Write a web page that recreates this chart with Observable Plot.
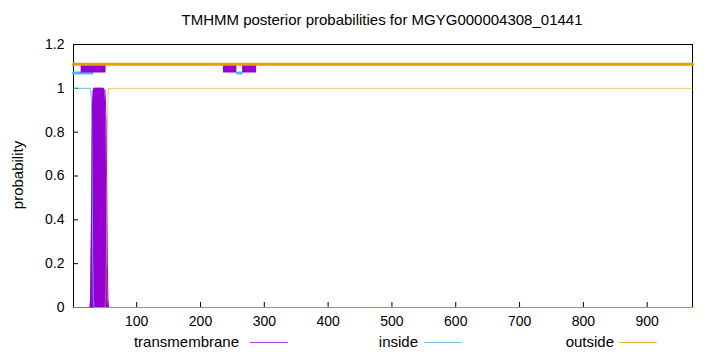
<!DOCTYPE html>
<html>
<head>
<meta charset="utf-8">
<script src="https://cdn.jsdelivr.net/npm/d3@7"></script>
<script src="https://cdn.jsdelivr.net/npm/@observablehq/plot@0.6"></script>
<style>
  html, body { margin: 0; padding: 0; background: #fff; }
  #wrap { position: relative; width: 720px; height: 352px; font-family: "Liberation Sans", Arial, sans-serif; }
  .t { position: absolute; font-size: 15px; line-height: 17px; color: #000; white-space: nowrap; }
</style>
</head>
<body>
<div id="wrap"></div>
<script>
// ---- data ----
const title = "TMHMM posterior probabilities for MGYG000004308_01441";
const seqLength = 971;
const xTicks = [100, 200, 300, 400, 500, 600, 700, 800, 900];
const yTicks = [0, 0.2, 0.4, 0.6, 0.8, 1, 1.2];

// posterior probabilities (position, value)
const tmPos =  [1, 27, 28, 29, 30, 31, 32, 33, 40, 48, 50, 51, 52, 53, 54, 55, 56, 971];
const tmVal =  [0, 0, 0.05, 0.35, 0.75, 0.93, 0.99, 1, 1, 1, 0.99, 0.95, 0.85, 0.55, 0.2, 0.04, 0, 0];
const inPos =  [1, 28, 29, 30, 31, 32, 33, 971];
const inVal =  [1, 1, 0.95, 0.7, 0.25, 0.04, 0, 0];
const outPos = [1, 50, 51, 52, 53, 54, 55, 56, 971];
const outVal = [0, 0, 0.03, 0.12, 0.4, 0.8, 0.96, 1, 1];

// predicted topology bars at the top
const topOutStart = [1];     const topOutEnd = [971];     const topOutLevel = 1.11;
const topInStart  = [1, 258]; const topInEnd  = [30, 264]; const topInLevel = 1.07;
const topTmStart  = [13, 236, 266]; const topTmEnd = [52, 257, 288];
const topTmLow = 1.07, topTmHigh = 1.11;

const legendNames = ["transmembrane", "inside", "outside"];
const colTM = "#9400d3", colIn = "#56b4e9", colOut = "#e69f00";

// ---- build tables ----
const tm = tmPos.map((x, i) => ({x, y: tmVal[i]}));
const ins = inPos.map((x, i) => ({x, y: inVal[i]}));
const outs = outPos.map((x, i) => ({x, y: outVal[i]}));
const outBar = topOutStart.flatMap((s, i) => [{x: s, y: topOutLevel, k: i}, {x: topOutEnd[i], y: topOutLevel, k: i}]);
const inBar = topInStart.flatMap((s, i) => [{x: s, y: topInLevel, k: i}, {x: topInEnd[i], y: topInLevel, k: i}]);
const tmBoxes = topTmStart.map((s, i) => ({x1: s, x2: topTmEnd[i], y1: topTmLow, y2: topTmHigh}));

const fmtY = d => String(+d.toFixed(1));

const chart = Plot.plot({
  width: 720,
  height: 352,
  marginLeft: 73,
  marginRight: 28,
  marginTop: 44,
  marginBottom: 45,
  style: {fontFamily: "Liberation Sans, Arial, sans-serif", fontSize: "14px", background: "#fff"},
  x: {domain: [1, seqLength], label: null},
  y: {domain: [0, 1.2], label: null},
  marks: [
    Plot.frame({stroke: "#000", strokeWidth: 1}),
    Plot.axisX({ticks: xTicks, tickSize: -5, tickPadding: 14, tickFormat: d => String(d), label: null, fontSize: 14}),
    Plot.axisY({ticks: yTicks, tickSize: -5, tickPadding: 14, tickFormat: fmtY, label: null, fontSize: 14}),
    Plot.areaY(tm, {x: "x", y: "y", fill: colTM}),
    Plot.line(tm, {x: "x", y: "y", stroke: colTM, strokeWidth: 1}),
    Plot.line(outs, {x: "x", y: "y", stroke: colOut, strokeWidth: 1, strokeOpacity: 0.6}),
    Plot.line(ins, {x: "x", y: "y", stroke: colIn, strokeWidth: 1, strokeOpacity: 0.9}),
    Plot.line(inBar, {x: "x", y: "y", z: "k", stroke: colIn, strokeWidth: 3}),
    Plot.rect(tmBoxes, {x1: "x1", x2: "x2", y1: "y1", y2: "y2", fill: colTM}),
    Plot.line(outBar, {x: "x", y: "y", z: "k", stroke: colOut, strokeWidth: 3})
  ]
});

const wrap = document.getElementById("wrap");
chart.style.position = "absolute";
chart.style.left = "0px";
chart.style.top = "0px";
wrap.appendChild(chart);

function addText(txt, css) {
  const d = document.createElement("div");
  d.className = "t";
  d.textContent = txt;
  Object.assign(d.style, css);
  wrap.appendChild(d);
  return d;
}
addText(title, {left: "382px", top: "11px", transform: "translateX(-50%)"});
addText("probability", {left: "17px", top: "175px", transform: "translate(-50%,-50%) rotate(-90deg)"});

// legend
const legendTextRight = [239, 418, 614];
const legendLineX = [250, 424, 619];
const legendCols = [colTM, colIn, colOut];
legendNames.forEach((n, i) => {
  addText(n, {right: (720 - legendTextRight[i]) + "px", top: "333px"});
  const l = document.createElement("div");
  Object.assign(l.style, {position: "absolute", left: legendLineX[i] + "px", top: "342px", width: "38px", height: "0px",
    borderTop: "1px solid " + legendCols[i], opacity: i === 0 ? 0.75 : 0.8});
  wrap.appendChild(l);
});
</script>
</body>
</html>
